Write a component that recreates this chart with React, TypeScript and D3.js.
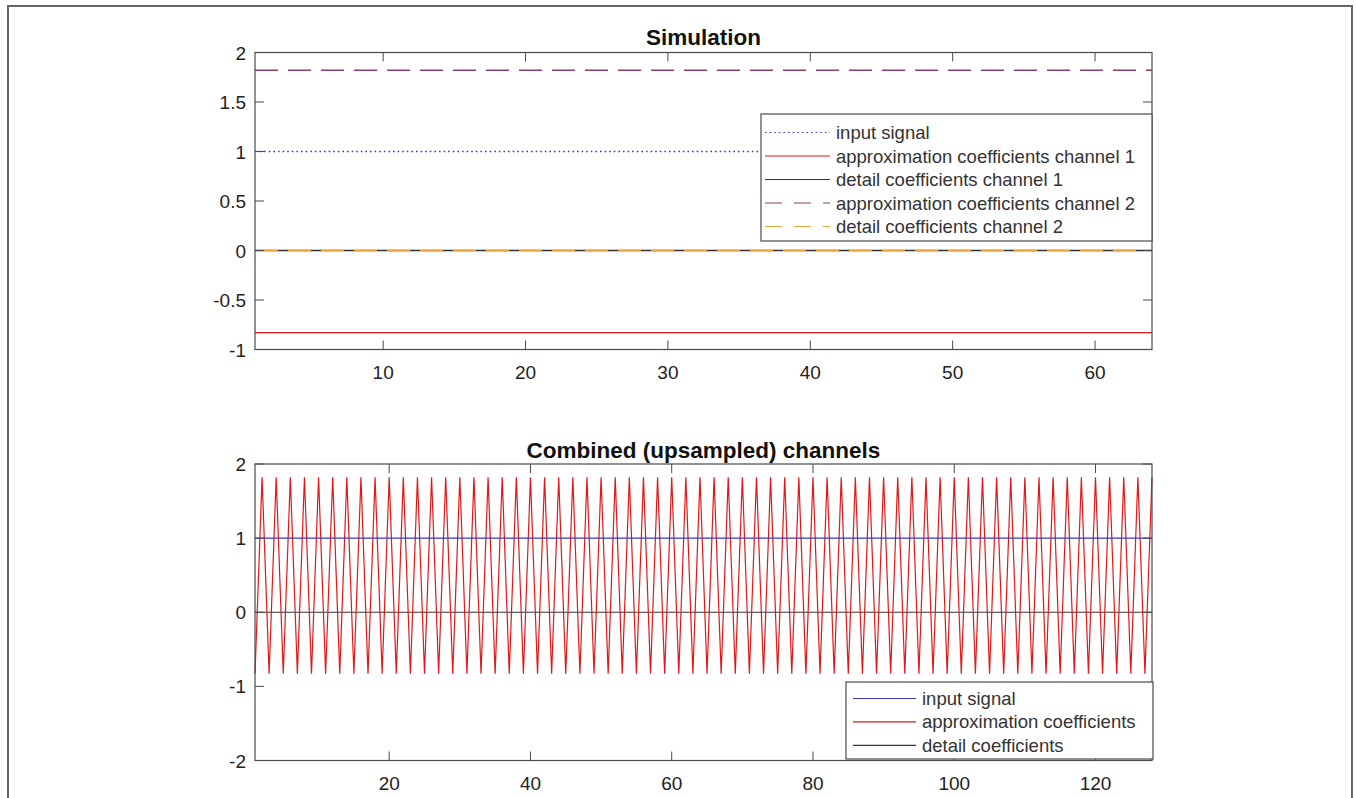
import React from 'react'
import * as d3 from 'd3'

// top panel: constant levels per series over samples 1..64
const simX = [1, 64]
const simInput = 1
const simApprox1 = -0.83
const simDetail1 = 0
const simApprox2 = 1.82
const simDetail2 = 0
const simXTicks = [10, 20, 30, 40, 50, 60]
const simYTicks = [-1, -0.5, 0, 0.5, 1, 1.5, 2]

// bottom panel: combined (upsampled) channels, samples 1..128
const combX = [1, 128]
const combInput = 1
const combDetail = 0
const combApprox = [
  -0.83, 1.82, -0.83, 1.82, -0.83, 1.82, -0.83, 1.82, -0.83, 1.82, -0.83, 1.82, -0.83, 1.82, -0.83, 1.82,
  -0.83, 1.82, -0.83, 1.82, -0.83, 1.82, -0.83, 1.82, -0.83, 1.82, -0.83, 1.82, -0.83, 1.82, -0.83, 1.82,
  -0.83, 1.82, -0.83, 1.82, -0.83, 1.82, -0.83, 1.82, -0.83, 1.82, -0.83, 1.82, -0.83, 1.82, -0.83, 1.82,
  -0.83, 1.82, -0.83, 1.82, -0.83, 1.82, -0.83, 1.82, -0.83, 1.82, -0.83, 1.82, -0.83, 1.82, -0.83, 1.82,
  -0.83, 1.82, -0.83, 1.82, -0.83, 1.82, -0.83, 1.82, -0.83, 1.82, -0.83, 1.82, -0.83, 1.82, -0.83, 1.82,
  -0.83, 1.82, -0.83, 1.82, -0.83, 1.82, -0.83, 1.82, -0.83, 1.82, -0.83, 1.82, -0.83, 1.82, -0.83, 1.82,
  -0.83, 1.82, -0.83, 1.82, -0.83, 1.82, -0.83, 1.82, -0.83, 1.82, -0.83, 1.82, -0.83, 1.82, -0.83, 1.82,
  -0.83, 1.82, -0.83, 1.82, -0.83, 1.82, -0.83, 1.82, -0.83, 1.82, -0.83, 1.82, -0.83, 1.82, -0.83, 1.82,
]
const combXTicks = [20, 40, 60, 80, 100, 120]
const combYTicks = [-2, -1, 0, 1, 2]

const simLegend = [
  'input signal',
  'approximation coefficients channel 1',
  'detail coefficients channel 1',
  'approximation coefficients channel 2',
  'detail coefficients channel 2',
]
const combLegend = ['input signal', 'approximation coefficients', 'detail coefficients']

const BLUE = '#3a3ac8'
const RED = '#e01818'
const BLACK = '#333'
const PURPLE = '#8e3a6e'
const ORANGE = '#eea23a'
const AXIS = '#4a4a4a'
const FONT = '"Liberation Sans", Arial, Helvetica, sans-serif'

type Style = { color: string; dash?: string; width?: number }

function Axes({ x, y, xTicks, yTicks, title, titleY }: any) {
  const [x0, x1] = x.range()
  const [y0, y1] = y.range()
  const tl = 9
  return (
    <g>
      <rect x={x0} y={y1} width={x1 - x0} height={y0 - y1} fill="none" stroke={AXIS} strokeWidth={1.2} />
      {xTicks.map((t: number) => (
        <g key={'x' + t}>
          <line x1={x(t)} x2={x(t)} y1={y0} y2={y0 - tl} stroke={AXIS} />
          <line x1={x(t)} x2={x(t)} y1={y1} y2={y1 + tl} stroke={AXIS} />
          <text x={x(t)} y={y0 + 29} textAnchor="middle" fontSize={19} fill="#222" fontFamily={FONT}>{t}</text>
        </g>
      ))}
      {yTicks.map((t: number) => (
        <g key={'y' + t}>
          <line x1={x0} x2={x0 + tl} y1={y(t)} y2={y(t)} stroke={AXIS} />
          <line x1={x1} x2={x1 - tl} y1={y(t)} y2={y(t)} stroke={AXIS} />
          <text x={x0 - 9} y={y(t) + 7} textAnchor="end" fontSize={19} fill="#222" fontFamily={FONT}>{t}</text>
        </g>
      ))}
      <text x={(x0 + x1) / 2} y={titleY} textAnchor="middle" fontSize={22.5} fontWeight="bold" fill="#111" fontFamily={FONT}>{title}</text>
    </g>
  )
}

function Legend({ box, labels, styles, rowH, sample }: any) {
  return (
    <g>
      <rect x={box.x} y={box.y} width={box.w} height={box.h} fill="#fff" stroke={AXIS} strokeWidth={1.2} />
      {labels.map((l: string, i: number) => {
        const cy = box.y + box.first + i * rowH
        const s: Style = styles[i]
        return (
          <g key={l}>
            <line x1={box.x + sample[0]} x2={box.x + sample[1]} y1={cy} y2={cy} stroke={s.color}
              strokeDasharray={s.dash} strokeWidth={s.width || 1.2} />
            <text x={box.x + sample[1] + 6} y={cy + 6.5} fontSize={18.5} fill="#333" fontFamily={FONT}>{l}</text>
          </g>
        )
      })}
    </g>
  )
}

export default function App() {
  const left = 255, right = 1152

  // top panel
  const xs = d3.scaleLinear().domain(simX).range([left, right])
  const ys = d3.scaleLinear().domain([-1, 2]).range([349.5, 52.5])
  const flat = (v: number) => simX.map((xx) => [xs(xx), ys(v)] as [number, number])
  const ln = d3.line()

  // bottom panel
  const xc = d3.scaleLinear().domain(combX).range([left, right])
  const yc = d3.scaleLinear().domain([-2, 2]).range([760.5, 464])
  const combLine = d3.line<number>().x((_, i) => xc(i + 1)).y((d) => yc(d))
  const flatC = (v: number) => combX.map((xx) => [xc(xx), yc(v)] as [number, number])

  const simStyles: Style[] = [
    { color: BLUE, dash: '1.6,3' },
    { color: RED },
    { color: BLACK },
    { color: PURPLE, dash: '17,12' },
    { color: ORANGE, dash: '17,12' },
  ]
  const combStyles: Style[] = [{ color: BLUE }, { color: RED }, { color: BLACK }]

  return (
    <svg width={1356} height={798} style={{ position: 'absolute', left: 0, top: 0, background: '#fff' }}>
      <rect x={8} y={6} width={1344} height={820} fill="#fff" stroke="#666" strokeWidth={2} />

      <g>
        <path d={ln(flat(simDetail1)) || ''} fill="none" stroke={BLACK} strokeWidth={1.6} />
        <path d={ln(flat(simDetail2)) || ''} fill="none" stroke={ORANGE} strokeWidth={1.6} strokeDasharray="23,10" />
        <path d={ln(flat(simApprox1)) || ''} fill="none" stroke={RED} strokeWidth={1.2} />
        <path d={ln(flat(simApprox2)) || ''} fill="none" stroke={PURPLE} strokeWidth={1.4} strokeDasharray="23,10" />
        <path d={ln(flat(simInput)) || ''} fill="none" stroke={BLUE} strokeWidth={1.3} strokeDasharray="1.6,3" />
      </g>
      <Axes x={xs} y={ys} xTicks={simXTicks} yTicks={simYTicks} title="Simulation" titleY={45} />
      <Legend box={{ x: 761, y: 114, w: 391, h: 127, first: 18.5 }} labels={simLegend} styles={simStyles}
        rowH={23.5} sample={[4, 69]} />

      <g>
        <path d={ln(flatC(combDetail)) || ''} fill="none" stroke={BLACK} strokeWidth={1.2} />
        <path d={combLine(combApprox) || ''} fill="none" stroke={RED} strokeWidth={1.2} />
        <path d={ln(flatC(combInput)) || ''} fill="none" stroke={BLUE} strokeWidth={1.3} />
      </g>
      <Axes x={xc} y={yc} xTicks={combXTicks} yTicks={combYTicks} title="Combined (upsampled) channels" titleY={458} />
      <Legend box={{ x: 846, y: 682, w: 307, h: 77, first: 16.5 }} labels={combLegend} styles={combStyles}
        rowH={23.4} sample={[7, 70]} />
    </svg>
  )
}
